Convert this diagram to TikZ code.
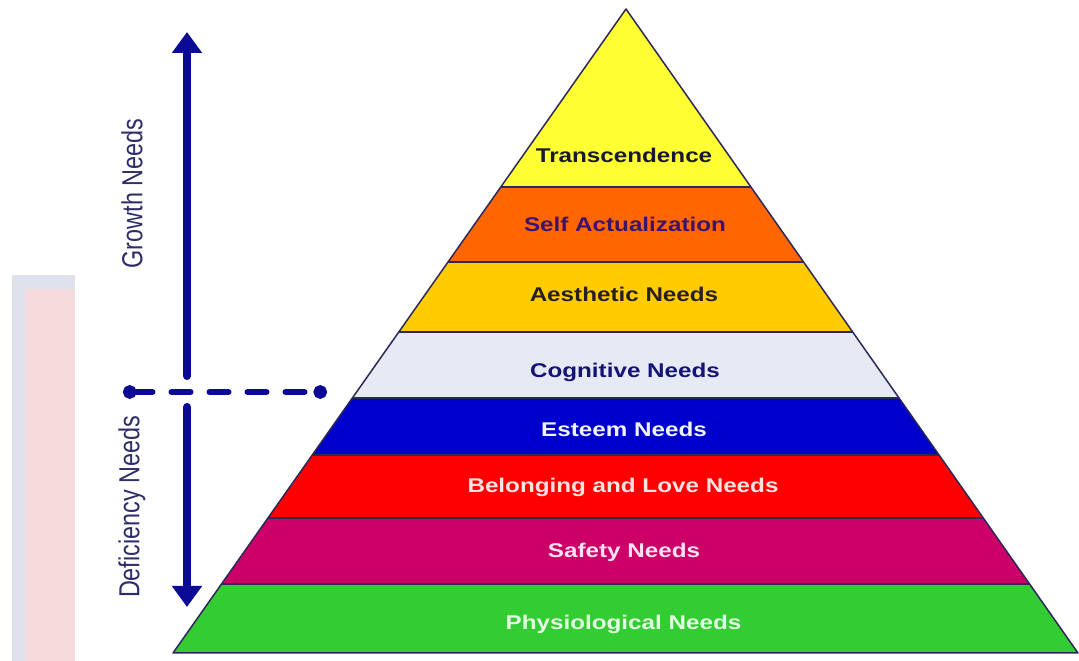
\documentclass[tikz,border=0pt]{standalone}
\usepackage{fontspec}
\usepackage{graphicx}
\setmainfont{Liberation Sans}
\newfontfamily\pyrfont[FakeStretch=1.22]{Liberation Sans}
\usetikzlibrary{arrows.meta,backgrounds}

\definecolor{needblue}{RGB}{10,10,150}
\definecolor{sidetext}{RGB}{45,45,105}
\definecolor{edgecol}{RGB}{45,40,90}
\definecolor{panelgrey}{RGB}{222,225,236}
\definecolor{panelpink}{RGB}{246,219,221}
\definecolor{lvltrans}{RGB}{255,255,51}
\definecolor{lvlself}{RGB}{255,102,0}
\definecolor{lvlaesth}{RGB}{255,204,0}
\definecolor{lvlcogn}{RGB}{230,234,244}
\definecolor{lvlesteem}{RGB}{0,0,204}
\definecolor{lvlbelong}{RGB}{255,0,0}
\definecolor{lvlsafety}{RGB}{204,0,102}
\definecolor{lvlphys}{RGB}{51,204,51}

\begin{document}
\begin{tikzpicture}[>={Triangle[length=0.42cm,width=0.58cm]},
  lvl/.style={font=\pyrfont\bfseries\fontsize{11.3}{13}\selectfont, anchor=base, inner sep=0pt},
  side/.style={font=\fontsize{13.3}{15}\selectfont, text=sidetext, rotate=90, inner sep=0pt},
  band/.style={draw=edgecol, line width=0.03cm},
  needarrow/.style={->, line width=0.16cm, line cap=round, needblue}]

\useasboundingbox (0,0) rectangle (21.58,13.22);

\coordinate (apex) at (12.52,13.04);
\coordinate (bl) at (3.46,0.16);
\coordinate (br) at (21.56,0.16);

% levels of the pyramid
\begin{scope}
\clip (apex) -- (bl) -- (br) -- cycle;
\filldraw [band, fill=lvltrans] (3,9.48) rectangle (22,13.2);
\filldraw [band, fill=lvlself] (3,7.98) rectangle (22,9.48);
\filldraw [band, fill=lvlaesth] (3,6.58) rectangle (22,7.98);
\filldraw [band, fill=lvlcogn] (3,5.26) rectangle (22,6.58);
\filldraw [band, fill=lvlesteem] (3,4.12) rectangle (22,5.26);
\filldraw [band, fill=lvlbelong] (3,2.86) rectangle (22,4.12);
\filldraw [band, fill=lvlsafety] (3,1.54) rectangle (22,2.86);
\filldraw [band, fill=lvlphys] (3,0.16) rectangle (22,1.54);
\end{scope}
\draw [band, line join=round] (apex) -- (bl) -- (br) -- cycle;

\node [lvl, text={rgb,255:red,25;green,25;blue,45}] (lvl8) at (12.48,9.96) {Transcendence};
\node [lvl, text={rgb,255:red,60;green,20;blue,110}] (lvl7) at (12.50,8.58) {Self Actualization};
\node [lvl, text={rgb,255:red,40;green,30;blue,30}] (lvl6) at (12.48,7.18) {Aesthetic Needs};
\node [lvl, text={rgb,255:red,20;green,20;blue,120}] (lvl5) at (12.50,5.66) {Cognitive Needs};
\node [lvl, text={rgb,255:red,242;green,242;blue,250}] (lvl4) at (12.48,4.48) {Esteem Needs};
\node [lvl, text={rgb,255:red,255;green,226;blue,226}] (lvl3) at (12.46,3.36) {Belonging and Love Needs};
\node [lvl, text={rgb,255:red,255;green,226;blue,240}] (lvl2) at (12.48,2.06) {Safety Needs};
\node [lvl, text={rgb,255:red,226;green,255;blue,226}] (lvl1) at (12.47,0.62) {Physiological Needs};

% growth / deficiency arrows
\coordinate (gbot) at (3.74,5.70);
\coordinate (gtop) at (3.74,12.58);
\coordinate (dtop) at (3.74,5.08);
\coordinate (dbot) at (3.74,1.08);
\coordinate (dl) at (2.46,5.38);
\coordinate (dr) at (6.54,5.38);

\draw [needarrow] (gbot) -- (gtop);
\draw [needarrow] (dtop) -- (dbot);
\draw [needblue, line width=0.12cm, line cap=round, dash pattern=on 0.38cm off 0.38cm,
       {Circle[length=0.27cm]}-{Circle[length=0.27cm]}] (dl) -- (dr);

\node [side] (growth) at (2.64,9.35) {\scalebox{1}[1.24]{Growth Needs}};
\node [side] (deficiency) at (2.64,3.08) {\scalebox{1}[1.24]{Deficiency Needs}};

 \begin{pgfonlayer}{background}
    \fill [panelgrey] (0.24,0) rectangle (1.50,7.72);
    \fill [panelpink] (0.50,0) rectangle (1.50,7.44);
  \end{pgfonlayer}

\end{tikzpicture}
\end{document}
